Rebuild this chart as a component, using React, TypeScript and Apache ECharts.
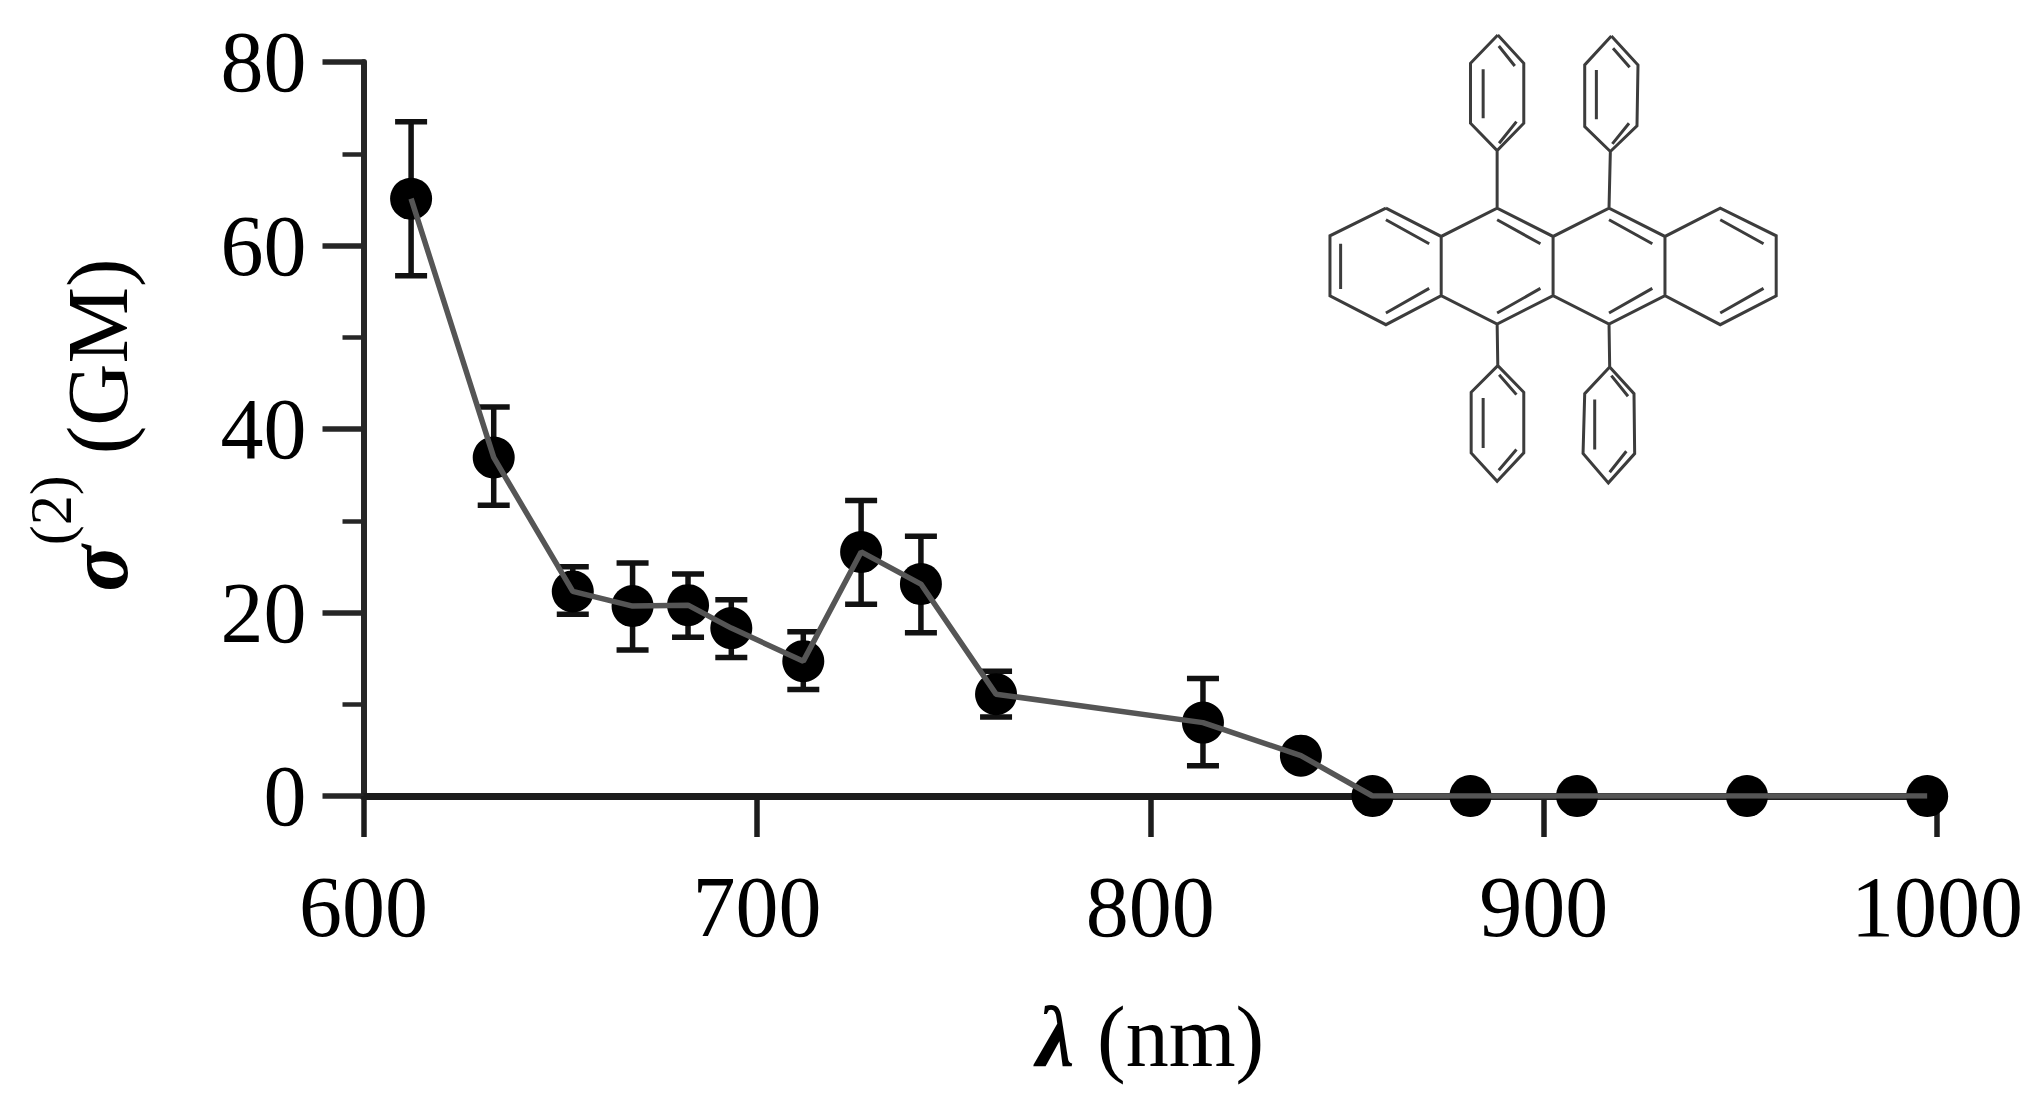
import React, { useEffect, useRef } from "react";
import * as echarts from "echarts";

const wavelengths = [612.1, 633.1, 653.2, 668.4, 682.5, 693.5, 711.8, 726.5, 741.7, 760.8, 813.4, 838.3, 856.5, 881.4, 908.5, 951.7, 997.5];
const crossSection = [65.1, 36.9, 22.3, 20.7, 20.8, 18.3, 14.7, 26.6, 23.1, 11.1, 8.0, 4.4, 0, 0, 0, 0, 0];
const errorHigh = [73.5, 42.4, 25.0, 25.4, 24.2, 21.4, 17.9, 32.2, 28.3, 13.6, 12.8, null, null, null, null, null, null];
const errorLow = [56.7, 31.7, 19.8, 15.9, 17.3, 15.1, 11.6, 20.9, 17.8, 8.6, 3.3, null, null, null, null, null, null];
const serif = "'Liberation Serif', 'Times New Roman', serif";

const rings = [
  [[258,565],[424,650],[592,565],[760,650],[928,565],[1096,650],[1262,565],[1430,648],[1430,828],[1262,915],[1096,828],[928,913],[760,828],[592,913],[424,828],[258,915],[90,828],[90,648],[258,565]],
  [[424,650],[424,828]], [[760,650],[760,828]], [[1096,650],[1096,828]],
  [[122,672],[122,808]], [[258,600],[388,672]], [[258,880],[388,806]], [[592,600],[722,672]], [[592,880],[722,806]],
  [[928,600],[1058,672]], [[928,880],[1058,806]], [[1262,600],[1392,672]], [[1262,880],[1392,806]],
  [[594,45],[512,130],[512,310],[592,392],[672,310],[672,130],[594,45]], [[592,392],[592,565]],
  [[597,78],[645,138]], [[550,148],[550,295]], [[598,370],[650,305]],
  [[935,48],[855,135],[855,320],[932,395],[1012,318],[1015,135],[935,48]], [[932,395],[928,565]],
  [[940,85],[990,142]], [[890,150],[890,298]], [[938,372],[988,310]],
  [[594,1038],[514,1118],[514,1300],[592,1385],[672,1300],[672,1118],[594,1038]], [[592,913],[594,1038]],
  [[598,1065],[650,1125]], [[550,1135],[550,1285]], [[597,1352],[650,1290]],
  [[930,1042],[855,1122],[850,1302],[926,1390],[1005,1302],[1003,1122],[930,1042]], [[928,913],[930,1042]],
  [[935,1068],[985,1130]], [[885,1140],[885,1290]], [[930,1358],[980,1295]],
];
const moleculePath = rings.map((r) => "M" + r.map((p) => p.join(" ")).join("L")).join(" ");
echarts.graphic.registerShape("molecule", echarts.graphic.extendPath(moleculePath, {}));

export default function App() {
  const ref = useRef<HTMLDivElement>(null);
  useEffect(() => {
    document.body.style.margin = "0";
    const chart = echarts.init(ref.current!, null, { renderer: "svg" });
    const errorData = wavelengths
      .map((x, i) => [x, errorLow[i], errorHigh[i]])
      .filter((d) => d[1] !== null);
    chart.setOption({
      animation: false,
      backgroundColor: "#fff",
      grid: { left: 363.5, right: 100, top: 62, height: 734, containLabel: false, outerBoundsMode: "none" },
      xAxis: {
        type: "value", min: 600, max: 1000, interval: 100,
        name: "{l|λ} {t|(nm)}",
        nameLocation: "middle", nameGap: 196,
        nameTextStyle: { fontFamily: serif, fontSize: 90, rich: {
          l: { fontFamily: serif, fontSize: 86, fontStyle: "italic", fontWeight: "bold", color: "#000" },
          t: { fontFamily: serif, fontSize: 86, color: "#000" },
        } },
        axisLine: { show: true, onZero: true, lineStyle: { color: "#1c1c1c", width: 7 } },
        axisTick: { show: true, length: 41, lineStyle: { color: "#1c1c1c", width: 5.5 } },
        axisLabel: { fontFamily: serif, fontSize: 86, color: "#000", margin: 68, hideOverlap: false, showMinLabel: true, showMaxLabel: true, formatter: (v: number) => String(v) },
        splitLine: { show: false },
      },
      yAxis: {
        type: "value", min: 0, max: 80, interval: 20,
        name: "{s|σ}{p|(2)} {t|(GM)}",
        nameLocation: "middle", nameGap: 223,
        nameTextStyle: { fontFamily: serif, fontSize: 84, rich: {
          s: { fontFamily: serif, fontSize: 86, fontStyle: "italic", fontWeight: "bold", color: "#000", lineHeight: 120, verticalAlign: "bottom", padding: [0, 0, 0, 8] },
          p: { fontFamily: serif, fontSize: 60, color: "#000", verticalAlign: "top", lineHeight: 60 },
          t: { fontFamily: serif, fontSize: 86, color: "#000", lineHeight: 120, verticalAlign: "bottom" },
        } },
        axisLine: { show: true, lineStyle: { color: "#262626", width: 6 } },
        axisTick: { show: true, length: 41, lineStyle: { color: "#262626", width: 5.5 } },
        minorTick: { show: true, splitNumber: 2, length: 21, lineStyle: { color: "#262626", width: 4.5 } },
        axisLabel: { fontFamily: serif, fontSize: 86, color: "#000", margin: 57 },
        splitLine: { show: false },
        minorSplitLine: { show: false },
      },
      series: [
        {
          type: "custom", name: "error", z: 3, data: errorData,
          encode: { x: 0, y: [1, 2] },
          renderItem: (_p: any, api: any) => {
            const lo = api.coord([api.value(0), api.value(1)]);
            const hi = api.coord([api.value(0), api.value(2)]);
            const style = { stroke: "#111", lineWidth: 5.5, fill: "none" };
            const c = 16;
            return { type: "group", children: [
              { type: "line", shape: { x1: lo[0], y1: lo[1], x2: hi[0], y2: hi[1] }, style },
              { type: "line", shape: { x1: lo[0] - c, y1: lo[1], x2: lo[0] + c, y2: lo[1] }, style },
              { type: "line", shape: { x1: hi[0] - c, y1: hi[1], x2: hi[0] + c, y2: hi[1] }, style },
            ] };
          },
        },
        {
          type: "scatter", name: "points", z: 4, symbol: "circle", symbolSize: 42,
          itemStyle: { color: "#000", opacity: 1 },
          data: wavelengths.map((x, i) => [x, crossSection[i]]),
        },
        {
          type: "line", name: "trend", z: 5, symbol: "none",
          lineStyle: { color: "#555", width: 5.5 },
          data: wavelengths.map((x, i) => [x, crossSection[i]]),
        },
      ],
      graphic: [
        { type: "molecule", x: 1300, y: 20, scaleX: 1 / 3, scaleY: 1 / 3, z: 10,
          style: { stroke: "#3c3c3c", fill: "none", lineWidth: 9, lineJoin: "miter" } },
      ],
    });
    return () => chart.dispose();
  }, []);
  return <div ref={ref} style={{ position: "absolute", left: 0, top: 0, width: 2037, height: 1110 }} />;
}
